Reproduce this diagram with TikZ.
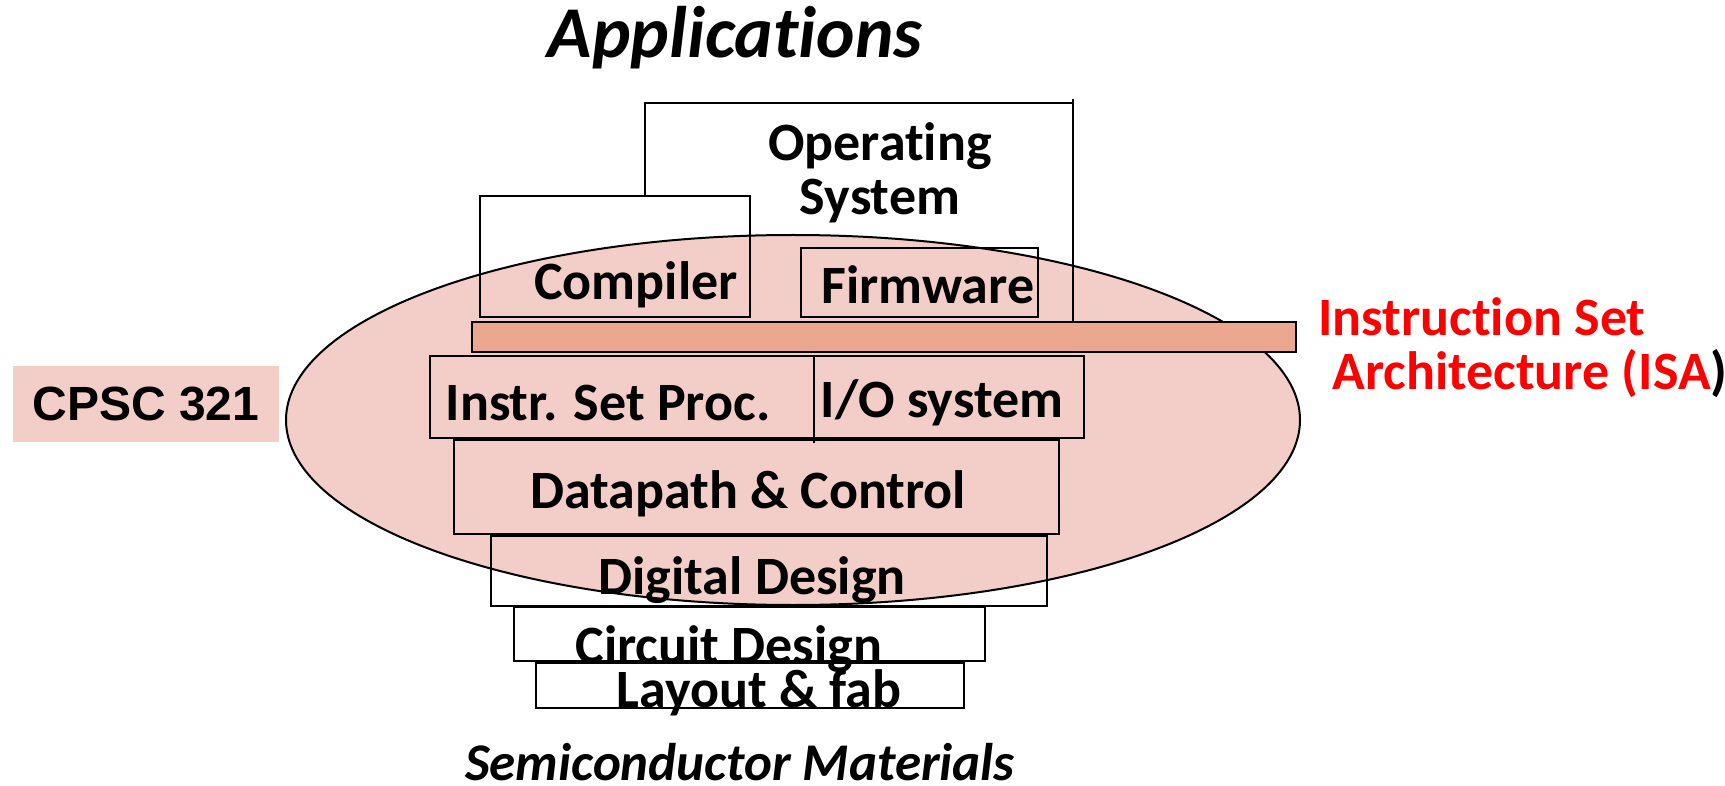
\documentclass[tikz,border=0pt]{standalone}
\usepackage{fontspec}
\setmainfont{Carlito}[RawFeature={-liga;-clig;-calt;-dlig}]
\newfontfamily\arialfont{Liberation Sans}
\usetikzlibrary{positioning}
\definecolor{coursepink}{RGB}{243,205,199}
\definecolor{isabar}{RGB}{235,168,142}
\definecolor{isared}{RGB}{255,0,0}

\begin{document}
\begin{tikzpicture}[x=0.5pt,y=-0.5pt,
   layer/.style={draw,line width=1.4pt},
   lbl/.style={font=\fontsize{27}{27}\selectfont\bfseries,inner sep=0pt},
   ttl/.style={font=\fontsize{36.5}{36.5}\selectfont\bfseries\itshape,inner sep=0pt}]

   \useasboundingbox (0,0) rectangle (1725,786);

   % course scope
   \draw[fill=coursepink,line width=1pt] (793,420) ellipse [x radius=253.5pt,y radius=92.5pt];
   \node[fill=coursepink,minimum width=133pt,minimum height=38pt,
         font=\arialfont\fontsize{24}{24}\selectfont\bfseries] (cpsc) at (146,404) {CPSC 321};

   % layers
   \draw[layer] (645,196) |- (1073,103);
   \draw[layer] (1073,99) -- (1073,322);
   \draw[layer] (480,196) rectangle (750,317);
   \draw[layer] (801,248) rectangle (1038,317);
   \draw[layer,line width=1.1pt,fill=isabar] (472,322) rectangle (1296,352);
   \draw[layer] (430,356) rectangle (1084,438);
   \draw[layer] (814,356) -- (814,443);
   \draw[layer] (454,440) rectangle (1059,534);
   \draw[layer] (491,536) rectangle (1047,606);
   \draw[layer] (514,607) rectangle (985,661);
   \draw[layer] (536,663) rectangle (964,708);

   \node[ttl] (app) at (735,38) {Applications};
   \node[lbl,align=center] (os) at (880,173) {Operating\\[0pt]System};
   \node[lbl] (comp) at (636,285) {Compiler};
   \node[lbl] (firm) at (928,285) {Firmware};
   \node[lbl] (isp) at (608,403) {Instr. Set Proc.};
   \node[lbl] (io) at (942,403) {I/O system};
   \node[lbl] (dpc) at (748,494) {Datapath \& Control};
   \node[lbl] (dig) at (752,580) {Digital Design};
   \node[lbl] (circ) at (729,649) {Circuit Design};
   \node[lbl] (lay) at (759,693) {Layout \& fab};
   \node[ttl,font=\fontsize{26.5}{26.5}\selectfont\bfseries\itshape] (semi) at (740,762) {Semiconductor Materials};

   \node[lbl,anchor=west,align=left,text=isared] (isa) at (1318,348)
      {Instruction Set\\[0pt]\hspace{7pt}Architecture (ISA\textcolor{black}{)}};
\end{tikzpicture}
\end{document}
